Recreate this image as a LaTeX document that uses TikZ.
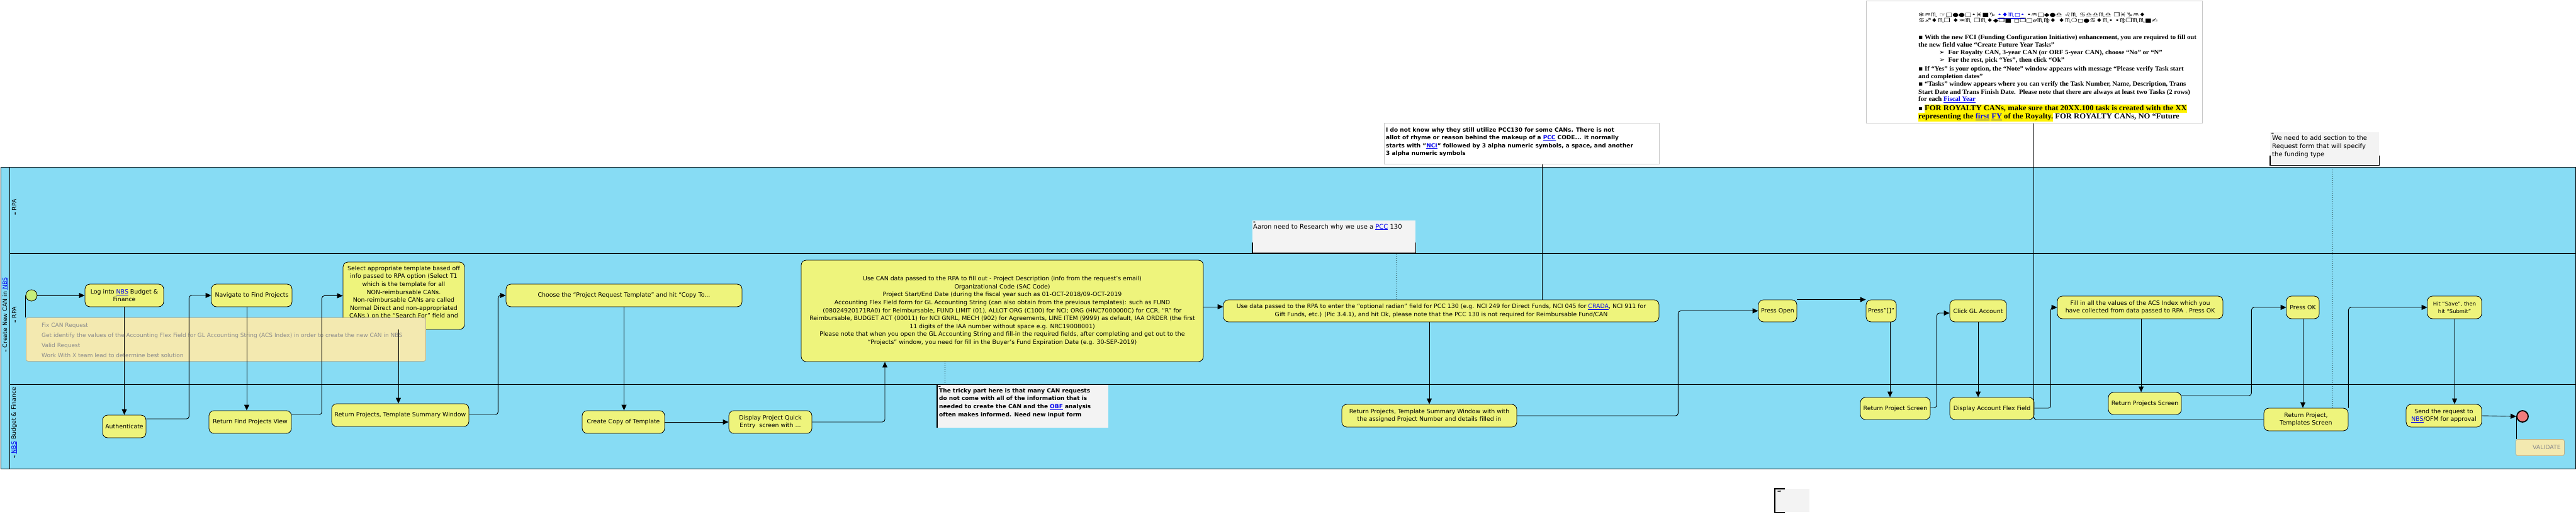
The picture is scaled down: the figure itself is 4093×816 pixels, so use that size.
\documentclass[tikz,border=0pt]{standalone}
\usepackage{fontspec}
\setmainfont{DejaVu Sans}
\newfontfamily\tnr{Liberation Serif}
\newfontfamily\djv{DejaVu Sans}
\usetikzlibrary{arrows.meta}
\definecolor{lanebg}{HTML}{87DCF4}
\definecolor{taskfill}{HTML}{EEF47C}
\definecolor{startfill}{HTML}{C6EE7A}
\definecolor{endfill}{HTML}{F07C7C}
\definecolor{notefill}{HTML}{F3E9B0}
\definecolor{noteline}{HTML}{B8B08C}
\definecolor{notetext}{HTML}{8C8C8C}
\definecolor{annfill}{HTML}{F3F3F3}
\definecolor{boxgray}{HTML}{C8C8C8}
\definecolor{linkblue}{HTML}{0000EE}
\newcommand\lnk[1]{\textcolor{linkblue}{\underline{#1}}}
\newcommand\hlt[1]{{\setlength{\fboxsep}{0pt}\colorbox{yellow}{\strut #1}}}
\newcommand\icon{{\djv\fontsize{5}{5}\selectfont ➡}}
\newcommand\tw[1]{\scalebox{1.05}[1]{#1}}
\newcommand\wdw[1]{\scalebox{1.13}[0.85]{#1}}
\begin{document}
\begin{tikzpicture}[x=1pt,y=-1pt,
  task/.style={draw=black, line width=0.8pt, fill=taskfill, rounded corners=8pt, inner sep=0pt, align=center, font=\fontsize{9.4}{12.6}\selectfont},
  flow/.style={draw=black, line width=0.9pt, rounded corners=4pt, -{Triangle[length=9pt,width=8pt]}},
  assoc/.style={draw=black, line width=0.9pt, rounded corners=4pt},
  dots/.style={draw=black, line width=0.9pt, dash pattern=on 1pt off 2pt},
  lane/.style={draw=black, line width=1.3pt, fill=lanebg, inner sep=0pt, anchor=north west},
  ann/.style={fill=annfill, inner sep=0pt, anchor=north west},
  bnote/.style={fill=notefill, draw=noteline, line width=0.8pt, rounded corners=3pt, inner sep=0pt, anchor=north west},
  wnote/.style={fill=white, draw=boxgray, line width=1pt, inner sep=0pt, anchor=north west},
  bracketline/.style={draw=black, line width=1.3pt},
  txt/.style={inner sep=0pt, font=\fontsize{9.4}{12.6}\selectfont},
  tnl/.style={anchor=base west, inner sep=0pt, font=\tnr\bfseries\fontsize{10.2}{12}\selectfont},
  tnb/.style={anchor=base west, inner sep=0pt, font=\tnr\bfseries\fontsize{12}{13.4}\selectfont},
  wd/.style={anchor=base west, inner sep=0pt, font=\djv\fontsize{10}{10}\selectfont},
]
\useasboundingbox (0,0) rectangle (4093,816);
\fill[white] (0,0) rectangle (4093,816);

% pool and lanes
\node[lane, line width=1.2pt, minimum width=4091pt, minimum height=479pt] (pool) at (1,265) {};
\node[lane, minimum width=4077pt, minimum height=137pt] (lane1) at (15,265) {};
\node[lane, minimum width=4077pt, minimum height=208pt] (lane2) at (15,402) {};
\node[lane, minimum width=4077pt, minimum height=134pt] (lane3) at (15,610) {};
\node[txt, rotate=90] (poollbl) at (8.5,500) {\icon\ Create New CAN in \lnk{NBS}};
\node[txt, rotate=90] (lbl1) at (22.5,329) {\icon\ RPA};
\node[txt, rotate=90] (lbl2) at (22.5,500) {\icon\ RPA};
\node[txt, rotate=90] (lbl3) at (22.5,671) {\icon\ \lnk{NBS} Budget \& Finance};

% events
\node[circle, draw=black, fill=startfill, minimum size=18pt, inner sep=0pt, line width=0.8pt] (start) at (50,469) {};
\node[circle, draw=black, fill=endfill, minimum size=18pt, inner sep=0pt, line width=1.8pt] (end) at (4008,661) {};

% tasks
\node[task, minimum width=125pt, minimum height=36pt] (log) at (197.5,469) {Log into \lnk{NBS} Budget \&\\Finance};
\node[task, minimum width=69pt, minimum height=36pt] (auth) at (197.5,677) {Authenticate};
\node[task, minimum width=128pt, minimum height=36pt] (nav) at (400,469) {Navigate to Find Projects};
\node[task, minimum width=131pt, minimum height=36pt] (rfpv) at (397.5,670) {Return Find Projects View};
\node[task, minimum width=193pt, minimum height=107pt] (sel) at (641.5,469.5) {};
\node[txt, anchor=north, align=center] (seltext) at (641.5,422) {Select appropriate template based off\\info passed to RPA option (Select T1\\which is the template for all\\NON-reimbursable CANs.\\Non-reimbursable CANs are called\\Normal Direct and non-appropriated\\CANs.) on the “Search For” field and};
\node[task, minimum width=218pt, minimum height=36pt] (rpts) at (636,659) {Return Projects, Template Summary Window};
\node[task, minimum width=375pt, minimum height=36pt] (choose) at (991.5,469) {Choose the “Project Request Template” and hit “Copy To...};
\node[task, minimum width=131pt, minimum height=36pt] (copy) at (990.5,670) {Create Copy of Template};
\node[task, minimum width=132pt, minimum height=36pt] (disp) at (1224,670) {Display Project Quick\\Entry\ \ screen with ...};
\node[task, minimum width=639pt, minimum height=161pt] (big) at (1592.5,493.5) {Use CAN data passed to the RPA to fill out - Project Description (info from the request's email)\\Organizational Code (SAC Code)\\Project Start/End Date (during the fiscal year such as 01-OCT-2018/09-OCT-2019\\Accounting Flex Field form for GL Accounting String (can also obtain from the previous templates): such as FUND\\(08024920171RA0) for Reimbursable, FUND LIMIT (01), ALLOT ORG (C100) for NCI; ORG (HNC7000000C) for CCR, “R” for\\Reimbursable, BUDGET ACT (00011) for NCI GNRL, MECH (902) for Agreements, LINE ITEM (9999) as default, IAA ORDER (the first\\11 digits of the IAA number without space e.g. NRC19008001)\\Please note that when you open the GL Accounting String and fill-in the required fields, after completing and get out to the\\“Projects” window, you need for fill in the Buyer's Fund Expiration Date (e.g. 30-SEP-2019)};
\node[task, minimum width=692pt, minimum height=35pt, font=\fontsize{9.4}{13}\selectfont] (usedata) at (2290,493.5) {Use data passed to the RPA to enter the “optional radian” field for PCC 130 (e.g. NCI 249 for Direct Funds, NCI 045 for \lnk{CRADA}, NCI 911 for\\Gift Funds, etc.) (Pic 3.4.1), and hit Ok, please note that the PCC 130 is not required for Reimbursable Fund/CAN};
\node[task, minimum width=278pt, minimum height=36pt] (rptsw) at (2271,660) {Return Projects, Template Summary Window with with\\the assigned Project Number and details filled in};
\node[task, minimum width=61pt, minimum height=35pt] (popen) at (2824.5,493.5) {Press Open};
\node[task, minimum width=48pt, minimum height=35pt] (pbr) at (2989,493.5) {Press"[]"};
\node[task, minimum width=111pt, minimum height=35pt] (rps) at (3011.5,648.5) {Return Project Screen};
\node[task, minimum width=90pt, minimum height=35pt] (gl) at (3143,493.5) {Click GL Account};
\node[task, minimum width=134pt, minimum height=35pt] (daff) at (3165,648.5) {Display Account Flex Field};
\node[task, minimum width=263pt, minimum height=36pt, font=\fontsize{9.4}{12}\selectfont] (fill) at (3400.5,488) {Fill in all the values of the ACS Index which you\\have collected from data passed to RPA . Press OK};
\node[task, minimum width=116pt, minimum height=35pt] (rpscr) at (3408,640.5) {Return Projects Screen};
\node[task, minimum width=52pt, minimum height=36pt] (pok) at (3659,488) {Press OK};
\node[task, minimum width=134pt, minimum height=36pt, font=\fontsize{9.4}{12}\selectfont] (rpts2) at (3664,666) {Return Project,\\Templates Screen};
\node[task, minimum width=86pt, minimum height=36pt, font=\fontsize{8.4}{12}\selectfont] (save) at (3900,488) {Hit “Save”, then\\hit “Submit”};
\node[task, minimum width=120pt, minimum height=36pt, font=\fontsize{9.4}{12}\selectfont] (send) at (3883,660) {Send the request to\\\lnk{NBS}/OFM for approval};

% notes
\node[bnote, minimum width=635pt, minimum height=69pt] (fixnote) at (41,504) {};
\node[txt, anchor=north west, align=left, text=notetext, font=\fontsize{9}{16}\selectfont] (fixtext) at (66,512) {Fix CAN Request\\Get identify the values of the Accounting Flex Field for GL Accounting String (ACS Index) in order to create the new CAN in NBS\\Valid Request\\Work With X team lead to determine best solution};
\node[bnote, minimum width=77pt, minimum height=26pt] (valnote) at (3997,697) {};
\node[txt, anchor=base east, text=notetext] (valtext) at (4069,713) {VALIDATE};

\node[wnote, minimum width=534pt, minimum height=194pt] (topnote) at (2965,1) {};
\node[wnote, minimum width=437pt, minimum height=65pt] (idk) at (2199,195) {};
\node[txt, anchor=north west, align=left, font=\bfseries\fontsize{9}{12.5}\selectfont] (idktext) at (2202,202) {I do not know why they still utilize PCC130 for some CANs. There is not\\allot of rhyme or reason behind the makeup of a \lnk{PCC} CODE... it normally\\starts with "\lnk{NCI}" followed by 3 alpha numeric symbols, a space, and another\\3 alpha numeric symbols};

\node[ann, minimum width=259pt, minimum height=51pt] (aaron) at (1990,350) {};
\draw[bracketline] ([yshift=16pt]aaron.south west) -- (aaron.south west) -- (aaron.south east) -- ([yshift=16pt]aaron.south east);
\node[txt, anchor=base west, font=\fontsize{10}{12}\selectfont] (aarontext) at (1991,363) {Aaron need to Research why we use a \lnk{PCC} 130};
\node[inner sep=0pt] (aaronicon) at (1993,353) {\icon};

\node[ann, minimum width=272pt, minimum height=68pt] (tricky) at (1489,611) {};
\draw[bracketline] (tricky.north west) -- (tricky.south west);
\node[txt, anchor=north west, align=left, font=\bfseries\fontsize{9}{12.7}\selectfont] (trickytext) at (1492,616) {The tricky part here is that many CAN requests\\do not come with all of the information that is\\needed to create the CAN and the \lnk{OBF} analysis\\often makes informed. Need new input form};
\node[inner sep=0pt] (trickyicon) at (1493,614) {\icon};

\node[ann, minimum width=173pt, minimum height=52pt] (weneed) at (3607,210) {};
\draw[bracketline] ([yshift=15pt]weneed.south west) -- (weneed.south west) -- (weneed.south east) -- ([yshift=15pt]weneed.south east);
\node[txt, anchor=north west, align=left, font=\fontsize{10}{12.7}\selectfont] (weneedtext) at (3610,215) {We need to add section to the\\Request form that will specify\\the funding type};
\node[inner sep=0pt] (weneedicon) at (3611,212) {\icon};

\node[ann, minimum width=55pt, minimum height=37pt] (empty) at (2820,776) {};
\draw[bracketline] ([xshift=16pt]empty.north west) -- (empty.north west) -- (empty.south west) -- ([xshift=16pt]empty.south west);
\node[inner sep=0pt, font=\djv\fontsize{7}{7}\selectfont] (emptyicon) at (2827,781) {➡};

% top note text (clipped)
\begin{scope}
\clip (2966,2) rectangle (3498,194.5);
\node[wd] (wd1) at (3048,27) {\wdw{❄♒♏ ☞□●●□•♓■♑ \lnk{•♦♏◻•} •♒□◆●♎ ♌♏ ♋♎♎♏♎ ❒♓♑♒♦}};
\node[wd] (wd2) at (3048,35.5) {\wdw{♋♐♦♏❒ ♦♒♏ ❒♏♦◆❒■ ◻❒□ℯ♏♍♦ ♦♏❍◻●♋♦♏• •♍❒♏♏■✍}};
\node[tnl] (t1) at (3048,63) {\tw{{\djv ▪} With the new FCI (Funding Configuration Initiative) enhancement, you are required to fill out}};
\node[tnl] (t2) at (3048,74.7) {\tw{the new field value “Create Future Year Tasks”}};
\node[tnl] (t3) at (3081,86.3) {\tw{{\djv ➢}\ \ For Royalty CAN, 3-year CAN (or ORF 5-year CAN), choose “No” or “N”}};
\node[tnl] (t4) at (3081,98.7) {\tw{{\djv ➢}\ \ For the rest, pick “Yes”, then click “Ok”}};
\node[tnl] (t5) at (3048,112.7) {\tw{{\djv ▪} If “Yes” is your option, the “Note” window appears with message “Please verify Task start}};
\node[tnl] (t6) at (3048,124.3) {\tw{and completion dates”}};
\node[tnl] (t7) at (3048,136.7) {\tw{{\djv ▪} “Tasks” window appears where you can verify the Task Number, Name, Description, Trans}};
\node[tnl] (t8) at (3048,149.7) {\tw{Start Date and Trans Finish Date.\ \ Please note that there are always at least two Tasks (2 rows)}};
\node[tnl] (t9) at (3048,160.7) {\tw{for each \lnk{Fiscal Year}}};
\node[tnb] (t10) at (3048,175) {\tw{{\djv\fontsize{9.6}{12}\selectfont ▪} \hlt{FOR ROYALTY CANs, make sure that 20XX.100 task is created with the XX}}};
\node[tnb] (t11) at (3048,188.7) {\tw{\hlt{representing the \lnk{first} \lnk{FY} of the Royalty.} FOR ROYALTY CANs, NO “Future}};
\end{scope}

% connectors
\draw[flow] (start.east) -- (log.west);
\draw[assoc] (start.west) -- (start.west |- fixnote.north);
\draw[flow] (log.south) -- (auth.north);
\draw[flow] ([yshift=12pt]auth.east) -- ++(68,0) |- (nav.west);
\draw[flow] ([xshift=-8pt]nav.south) -- ([xshift=-8pt]nav.south |- rfpv.north);
\draw[flow] ([yshift=12pt]rfpv.east) -- ++(48,0) |- (sel.west);
\draw[flow] ([xshift=-8.5pt]sel.south) -- ([xshift=-8.5pt]sel.south |- rpts.north);
\draw[flow] ([yshift=1pt]rpts.east) -- ++(46,0) |- (choose.west);
\draw[flow] (choose.south) -- (choose.south |- copy.north);
\draw[flow] (copy.east) -- (disp.west);
\draw[flow] (disp.east) -| ([xshift=-186.5pt]big.south);
\draw[flow] ([yshift=6.5pt]big.east) -- ([yshift=6.5pt]big.east -| usedata.west);
\draw[flow] (usedata.south -| rptsw) -- (rptsw.north);
\draw[flow] (rptsw.east) -- ++(256,0) |- (popen.west);
\draw[flow] (popen.north east) -- (pbr.north west);
\draw[flow] ([xshift=14pt]pbr.south) -- ([xshift=14pt]pbr.south |- rps.north);
\draw[flow] ([yshift=1.5pt]rps.east) -- ++(10,0) |- ([yshift=-3.5pt]gl.west);
\draw[flow] (gl.south) -- (gl.south |- daff.north);
\draw[flow] ([yshift=0.5pt]daff.east) -- ++(26,0) |- (fill.west);
\draw[flow] ([xshift=1.5pt]fill.south) -- ([xshift=1.5pt]fill.south |- rpscr.north);
\draw[flow] ([yshift=12.5pt]rpscr.east) -- ++(111,0) |- (pok.west);
\draw[flow] (pok.south) -- (pok.south |- rpts2.north);
\draw[flow] (rpts2.north east) |- (save.west);
\draw[flow] (save.south) -- (save.south |- send.north);
\draw[flow] (send.east) -- (end.west);
\draw[assoc] (end.west) -- (end.west |- valnote.north);
\draw[dots] ([xshift=-91.5pt]big.south) -- ([xshift=-91.5pt]big.south |- tricky.north);
\draw[assoc] ([xshift=32.5pt]idk.south) -- ([xshift=32.5pt]idk.south |- usedata.north);
\draw[dots] ([xshift=99.5pt]aaron.south) -- ([xshift=99.5pt]aaron.south |- usedata.north);
\draw[assoc] ([xshift=-1pt]topnote.south) |- (rpts2.west);
\draw[dots] ([xshift=11.5pt]weneed.south) -- ([xshift=11.5pt]weneed.south |- rpts2.north);
\end{tikzpicture}
\end{document}
